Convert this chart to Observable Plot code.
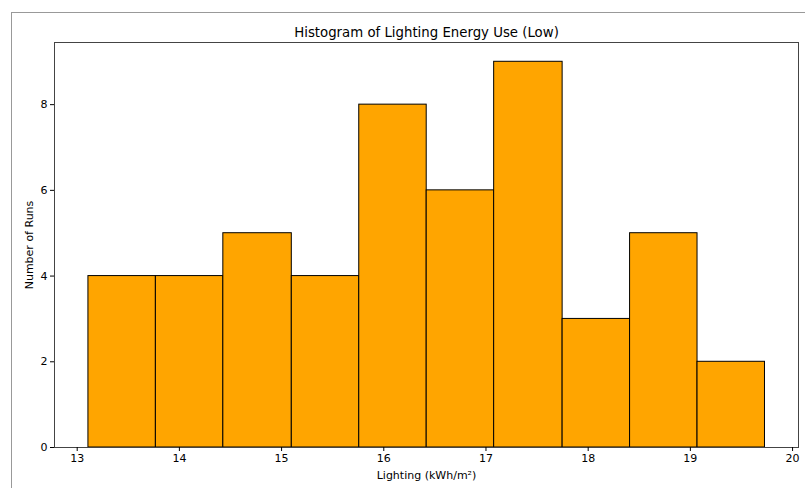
<!DOCTYPE html>
<html>
<head>
<meta charset="utf-8">
<script src="https://cdn.jsdelivr.net/npm/d3@7"></script>
<script src="https://cdn.jsdelivr.net/npm/@observablehq/plot@0.6"></script>
<style>
  html, body { margin: 0; padding: 0; background: #fff; }
  #wrap { position: relative; width: 805px; height: 488px; overflow: hidden; }
  #border { position: absolute; left: 11px; top: 12px; width: 820px; height: 500px; border: 1.5px solid #999; box-sizing: border-box; }
  #chart { position: absolute; left: 0; top: 0; }
</style>
</head>
<body>
<div id="wrap"><div id="border"></div><div id="chart"></div></div>
<script>
const binEdges = [13.11, 13.77, 14.43, 15.10, 15.76, 16.42, 17.08, 17.75, 18.41, 19.07, 19.73];
const counts = [4, 4, 5, 4, 8, 6, 9, 3, 5, 2];
const xTicks = [13, 14, 15, 16, 17, 18, 19, 20];
const yTicks = [0, 2, 4, 6, 8];
const title = "Histogram of Lighting Energy Use (Low)";
const xLabel = "Lighting (kWh/m²)";
const yLabel = "Number of Runs";

const bins = counts.map((c, i) => ({x1: binEdges[i], x2: binEdges[i + 1], count: c}));

const chart = Plot.plot({
  width: 805,
  height: 488,
  marginLeft: 54,
  marginRight: 7,
  marginTop: 42,
  marginBottom: 41,
  style: {fontFamily: "DejaVu Sans", fontSize: "11px", color: "#000", background: "transparent", overflow: "visible"},
  x: {domain: [12.778, 20.058]},
  y: {domain: [0, 9.45]},
  marks: [
    Plot.rectY(bins, {x1: "x1", x2: "x2", y1: 0, y2: "count", fill: "#FFA500", stroke: "#000", strokeWidth: 1, inset: 0}),
    Plot.frame({stroke: "#444", strokeWidth: 1}),
    Plot.axisX({ticks: xTicks, tickSize: 4, tickPadding: 3, fontSize: 11, label: null, tickFormat: d => String(d)}),
    Plot.axisY({ticks: yTicks, tickSize: 4, tickPadding: 3, fontSize: 11, label: null, tickFormat: d => String(d)}),
    Plot.text([title], {frameAnchor: "top", lineAnchor: "bottom", textAnchor: "middle", dy: -6, fontSize: 13.3}),
    Plot.text([xLabel], {frameAnchor: "bottom", lineAnchor: "middle", textAnchor: "middle", dy: 28, fontSize: 11}),
    Plot.text([yLabel], {frameAnchor: "left", lineAnchor: "middle", textAnchor: "middle", dx: -25.5, rotate: -90, fontSize: 11})
  ]
});
document.getElementById("chart").appendChild(chart);
</script>
</body>
</html>
